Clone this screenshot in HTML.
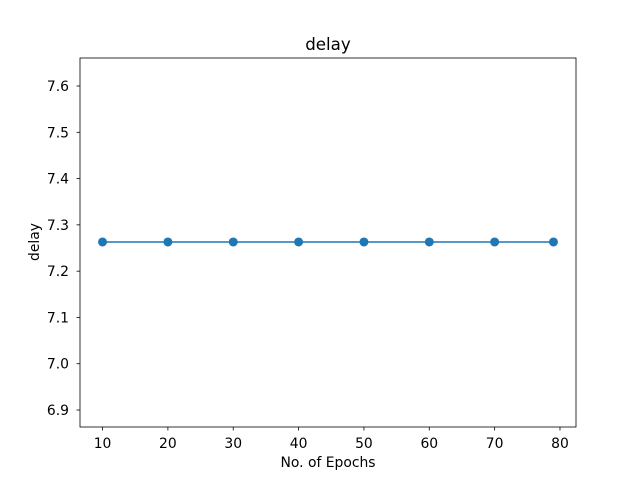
<!DOCTYPE html>
<html><head><meta charset="utf-8"><style>
body{margin:0;background:#fff}
svg{display:block;font-family:"DejaVu Sans","Liberation Sans",sans-serif}
</style></head><body>
<svg id="chart" width="640" height="480" xmlns="http://www.w3.org/2000/svg">
<rect width="640" height="480" fill="#fff"/>
<text x="328" y="50" text-anchor="middle" font-size="16.7">delay</text>
<g id="axes"></g>
<text x="328" y="467" text-anchor="middle" font-size="13.9">No. of Epochs</text>
<text transform="translate(39,242) rotate(-90)" text-anchor="middle" font-size="13.9">delay</text>
</svg>
<script>
const epochs=[10,20,30,40,50,60,70,79];
const delays=[7.263,7.263,7.263,7.263,7.263,7.263,7.263,7.263];
const xTicks=[10,20,30,40,50,60,70,80];
const yTicks=[6.9,7.0,7.1,7.2,7.3,7.4,7.5,7.6];
const L=80,R=576,T=58,B=427;
const xmin=6.55,xmax=82.45,ymin=6.8633,ymax=7.6605;
const xs=v=>L+(v-xmin)/(xmax-xmin)*(R-L);
const ys=v=>B-(v-ymin)/(ymax-ymin)*(B-T);
const NS="http://www.w3.org/2000/svg";
const g=document.getElementById('axes');
function mk(tag,attrs){const e=document.createElementNS(NS,tag);for(const k in attrs)e.setAttribute(k,attrs[k]);g.appendChild(e);return e;}
xTicks.forEach(t=>{
  const l=mk('line',{x1:xs(t),x2:xs(t),y1:B,y2:B+3.5,stroke:'#000','stroke-width':0.8});
  
  
  const tx=mk('text',{x:xs(t),y:B+21,'text-anchor':'middle','font-size':13.9});
  
  
  tx.textContent=t;
});
yTicks.forEach(t=>{
  const l=mk('line',{x1:L-3.5,x2:L,y1:ys(t),y2:ys(t),stroke:'#000','stroke-width':0.8});
  
  
  const tx=mk('text',{x:L-11,y:ys(t)+5,'text-anchor':'end','font-size':13.9});
  
  
  tx.textContent=t.toFixed(1);
});
const line=mk('polyline',{points:epochs.map((e,i)=>xs(e)+','+ys(delays[i])).join(' '),fill:'none',stroke:'#1f77b4','stroke-width':1.5});


epochs.forEach((e,i)=>{
  const c=mk('circle',{cx:xs(e),cy:ys(delays[i]),r:4.5,fill:'#1f77b4'});
  
  
});
const fr=mk('rect',{x:L,y:T,width:R-L,height:B-T,fill:'none',stroke:'#000','stroke-width':0.8});


</script>
</body></html>
